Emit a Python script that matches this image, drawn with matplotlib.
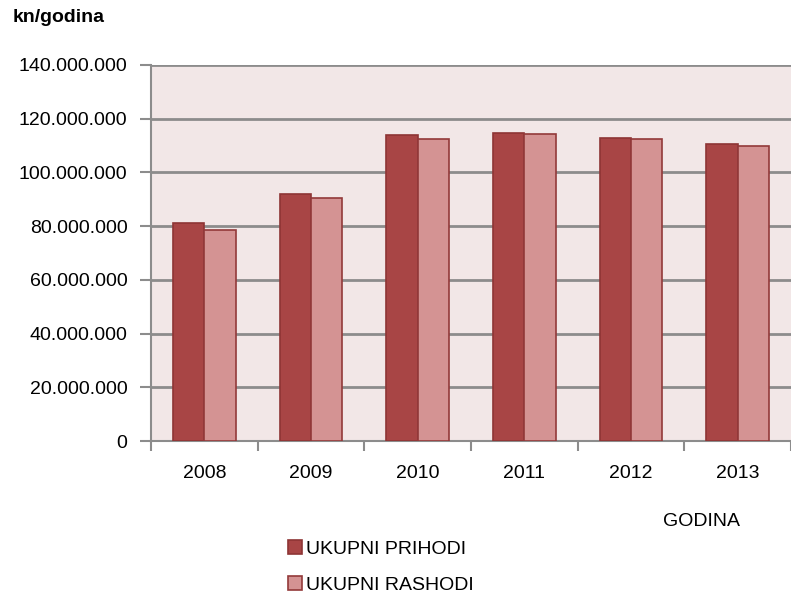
import numpy as np
import matplotlib
matplotlib.use('Agg')
from matplotlib import pyplot as plt
from matplotlib.ticker import FuncFormatter

plt.rcParams['font.family'] = ['Liberation Sans', 'DejaVu Sans']

godine = ['2008', '2009', '2010', '2011', '2012', '2013']
prihodi = [81.2e6, 91.8e6, 113.8e6, 114.8e6, 112.9e6, 110.5e6]
rashodi = [78.5e6, 90.6e6, 112.4e6, 114.2e6, 112.5e6, 109.9e6]

fig = plt.figure(figsize=(7.91, 5.98), dpi=100)
ax = fig.add_axes([151 / 791, 1 - 441 / 598, 1 - 151 / 791, (441 - 65) / 598])
ax.set_facecolor('#F2E7E7')

x = np.arange(len(godine))
w = 0.295
ax.bar(x - w / 2, prihodi, w, color='#A84545', edgecolor='#8E3535', linewidth=1.2,
       label='UKUPNI PRIHODI', zorder=3)
ax.bar(x + w / 2, rashodi, w, color='#D49393', edgecolor='#93393A', linewidth=1.2,
       label='UKUPNI RASHODI', zorder=3)

ax.set_xlim(-0.5, len(godine) - 0.5)
ax.set_ylim(0, 140e6)
ax.set_yticks(np.arange(0, 140e6 + 1, 20e6))
ax.yaxis.set_major_formatter(FuncFormatter(lambda v, p: '{:,.0f}'.format(v).replace(',', '.')))
ax.grid(axis='y', color='#8C8C8C', linewidth=2, zorder=1)

ax.set_xticks(np.arange(-0.5, len(godine), 1.0))
ax.set_xticklabels([])
ax.set_xticks(x, minor=True)
ax.set_xticklabels(godine, minor=True)
ax.tick_params(axis='x', which='minor', length=0, pad=17, labelsize=14)
ax.tick_params(axis='x', which='major', length=7, width=1.5, color='#8C8C8C')
ax.tick_params(axis='y', length=8, width=1.5, color='#8C8C8C', labelsize=14, pad=9)

for s in ['top', 'right']:
    ax.spines[s].set_visible(False)
ax.spines['left'].set_color('#8C8C8C')
ax.spines['left'].set_linewidth(1.5)
ax.spines['bottom'].set_color('#8C8C8C')
ax.spines['bottom'].set_linewidth(1.5)

fig.text(13 / 791, 1 - 18 / 598, 'kn/godina', fontsize=14, fontweight='bold', va='center', ha='left')
fig.text(701 / 791, 1 - 521 / 598, 'GODINA', fontsize=14, va='center', ha='center')

fig.legend(loc='upper left', bbox_to_anchor=(288 / 791, 1 - 540 / 598), frameon=False,
           fontsize=14, handlelength=0.7, handleheight=0.7, handletextpad=0.2,
           labelspacing=0.95, borderaxespad=0, borderpad=0)

fig.savefig('out.png', dpi=100)
